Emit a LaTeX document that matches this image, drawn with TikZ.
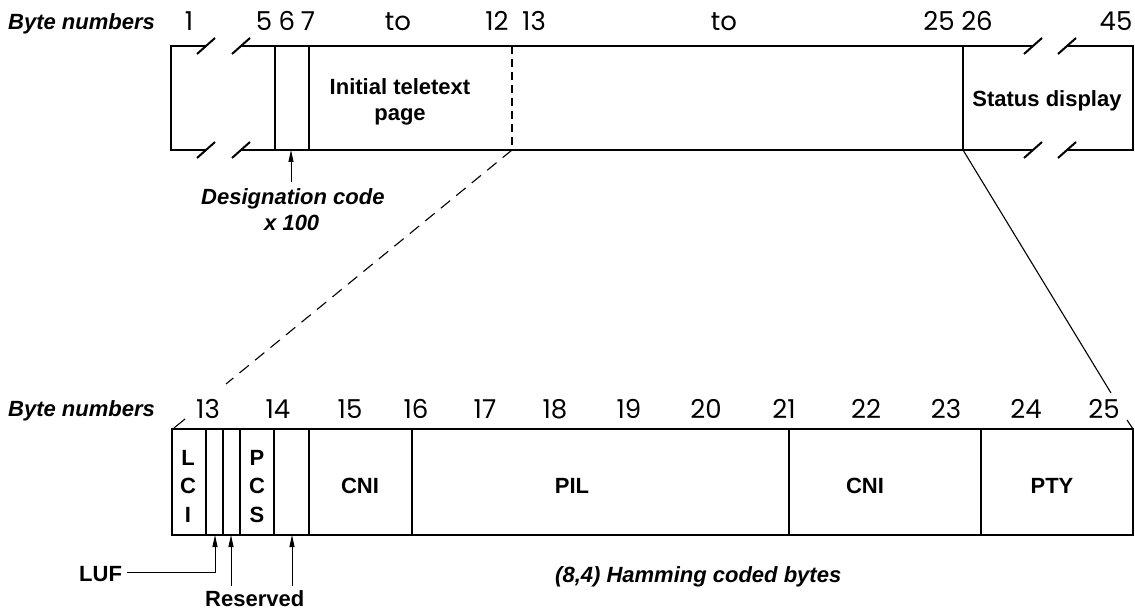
\documentclass[tikz,border=0pt]{standalone}
\usepackage{fontspec}
\setmainfont{Liberation Sans}
\newfontfamily\numfont{Poppins}
\usetikzlibrary{arrows.meta}
\begin{document}
\begin{tikzpicture}[x=1pt,y=-1pt,
  thickline/.style={line width=2.4pt},
  thinline/.style={line width=1.1pt},
  brk/.style={line width=2pt},
  num/.style={font=\numfont\fontsize{26}{28}\selectfont, inner sep=0pt, anchor=base},
  bl/.style={font=\fontsize{22}{24}\selectfont\bfseries, inner sep=0pt, anchor=base},
  bi/.style={font=\fontsize{22}{24}\selectfont\bfseries\itshape, inner sep=0pt, anchor=base west},
  bw/.style={font=\fontsize{22}{24}\selectfont\bfseries, inner sep=0pt, anchor=base west},
  arr/.style={line width=0.9pt, -{Triangle[length=12pt,width=5pt]}},
]
\useasboundingbox (0,0) rectangle (1135,612);

% ---------- top frame ----------
\coordinate (tTL) at (171,46);
\coordinate (tBL) at (171,150);
\coordinate (tTR) at (1133,46);
\coordinate (tBR) at (1133,150);
\draw[thickline] (206,46) -- (tTL) -- (tBL) -- (206,150);
\draw[thickline] (241,46) -- (1033,46);
\draw[thickline] (241,150) -- (1033,150);
\draw[thickline] (1067,46) -- (tTR) -- (tBR) -- (1067,150);
\foreach \x in {206,241,1033,1067}
  \foreach \y in {46,150}
    \draw[brk] (\x-9,\y+8) -- (\x+9,\y-8);
\draw[thinline] (275,46) -- (275,150);
\draw[thinline] (309,46) -- (309,150);
\draw[thinline, dash pattern=on 8pt off 5pt] (512,46) -- (512,150);
\draw[thinline] (963,46) -- (963,150);
\coordinate (t12) at (512,150);
\coordinate (t25) at (963,150);
\coordinate (desp) at (291,150);

% top labels
\node[bi] (bn1) at (8,30) {Byte numbers};
\node[num] (n1) at (189,31) {1};
\node[num] (n5) at (264,31) {5};
\node[num] (n6) at (287,31) {6};
\node[num] (n7) at (308,31) {7};
\node[num] (nto1) at (398,31) {to};
\node[num] (n12) at (497,31) {12};
\node[num] (n13) at (534,31) {13};
\node[num] (nto2) at (724,31) {to};
\node[num] (n25) at (939,31) {25};
\node[num] (n26) at (977,31) {26};
\node[num] (n45) at (1116,31) {45};

\node[bl] (itp1) at (400,95) {Initial teletext};
\node[bl] (itp2) at (400,121) {page};
\node[bl] (stat) at (1047,107) {Status display};

% designation code
\node[bi] (des) at (201,205) {Designation code};
\node[bi] (x100) at (264,231) {x 100};
\coordinate (dest) at (291,182);
\draw[arr] (dest) -- (desp);

% ---------- bottom frame ----------
\coordinate (bTL) at (172,429);
\coordinate (bBR) at (1133,535);
\draw[thickline] (bTL) rectangle (bBR);
\foreach \x in {206,223,240,274,309,412,789,981}
  \draw[thinline] (\x,429) -- (\x,535);

% projection lines
\coordinate (dA) at (226,384);
\coordinate (dB) at (185,419);
\coordinate (dC) at (174,428);
\draw[thinline, dash pattern=on 12pt off 8pt] (t12) -- (dA);
\draw[thinline] (dB) -- (dC);
\coordinate (sA) at (1111,393);
\coordinate (sB) at (1127,420);
\coordinate (sC) at (1133,429);
\draw[thinline] (t25) -- (sA);
\draw[thinline] (sB) -- (sC);

% bottom labels
\node[bi] (bn2) at (8,416) {Byte numbers};
\foreach \n/\x in {13/208,14/278,15/350,16/416,17/485,18/555,19/629,20/706,21/784,22/866,23/946,24/1026,25/1104}
  \node[num] (b\n) at (\x,418) {\n};

\node[bl] (L) at (188,465) {L};
\node[bl] (C) at (188,493) {C};
\node[bl] (I) at (188,522) {I};
\node[bl] (P) at (257,465) {P};
\node[bl] (C2) at (257,493) {C};
\node[bl] (S) at (257,522) {S};
\node[bl] (cni1) at (360,493) {CNI};
\node[bl] (pil) at (572,493) {PIL};
\node[bl] (cni2) at (865,493) {CNI};
\node[bl] (pty) at (1052,493) {PTY};

\node[bi] (ham) at (555,582) {(8,4) Hamming coded bytes};

% LUF and reserved
\node[bw] (luf) at (79,581) {LUF};
\coordinate (lufp) at (215,535);
\draw[arr] ([xshift=5pt,yshift=1pt]luf.east) -| (lufp);
\node[bw] (res) at (205,606) {Reserved};
\coordinate (r1p) at (231,535);
\coordinate (r2p) at (292,535);
\coordinate (r1t) at (231,586);
\coordinate (r2t) at (292,586);
\draw[arr] (r1t) -- (r1p);
\draw[arr] (r2t) -- (r2p);
\end{tikzpicture}
\end{document}
